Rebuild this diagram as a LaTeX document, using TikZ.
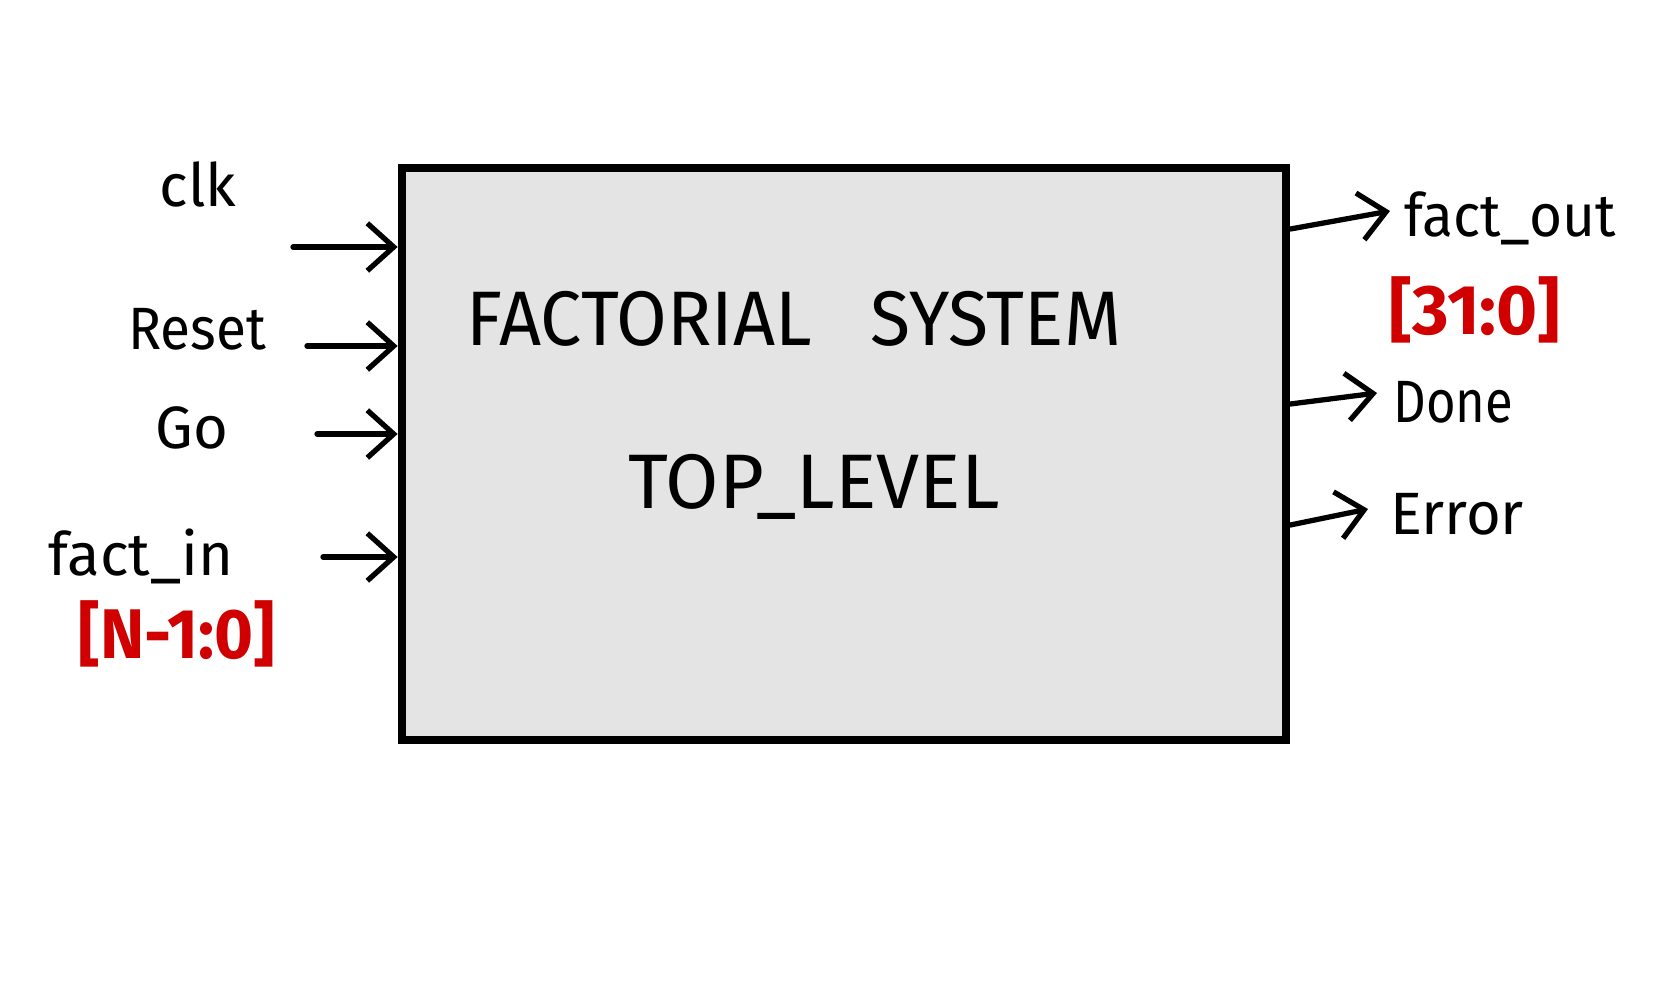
\documentclass[tikz,border=0pt]{standalone}
\usepackage{fontspec}
\setmainfont{Fira Sans}
\usetikzlibrary{arrows.meta}
\definecolor{boxgray}{HTML}{E4E4E4}
\definecolor{penred}{HTML}{D00000}
\begin{document}
\begin{tikzpicture}[x=0.02cm,y=-0.02cm,
  sig/.style={line width=3pt,line cap=round,line join=round,
    -{Straight Barb[length=15pt,width=27pt,line width=3pt]}},
  lbl/.style={inner sep=0pt,font=\fontsize{34}{40}\selectfont},
  bus/.style={inner sep=0pt,text=penred,font=\fontsize{40}{48}\selectfont\bfseries},
  ttl/.style={inner sep=0pt,font=\fontsize{44}{52}\selectfont}]
\useasboundingbox (0,0) rectangle (1657,1000);
\fill[white] (0,0) rectangle (1657,1000);
\node[draw,line width=4.5pt,fill=boxgray,minimum width=17.7cm,minimum height=11.44cm,inner sep=0pt] (box) at (844,454) {};
% title
\node[ttl] (t1) at (794,319) {\scalebox{0.95}[1]{FACTORIAL\hspace{0.8em}SYSTEM}};
\node[ttl] (t2) at (814,487) {TOP\_LEVEL};
% inputs
\node[lbl] (clk) at (198,184) {clk};
\node[lbl] (rst) at (197,329) {\scalebox{0.92}[1]{Reset}};
\node[lbl] (go) at (192,428) {Go};
\node[lbl] (fin) at (141,556) {fact\_in};
\node[bus] (finw) at (177,634) {\scalebox{0.95}[1]{[N-1:0]}};
\coordinate (clkS) at (293,247);
\coordinate (rstS) at (307,346);
\coordinate (goS) at (317,434);
\coordinate (finS) at (323,557);
\draw[sig] (clkS) -- (clkS -| box.west);
\draw[sig] (rstS) -- (rstS -| box.west);
\draw[sig] (goS) -- (goS -| box.west);
\draw[sig] (finS) -- (finS -| box.west);
% outputs
\node[lbl,anchor=west] (fout) at (1404,218) {\scalebox{0.95}[1]{fact\_out}};
\node[bus] (foutw) at (1475,310) {[31:0]};
\node[lbl,anchor=west] (done) at (1393,402) {\scalebox{0.85}[1]{Done}};
\node[lbl,anchor=west] (err) at (1390,514) {Error};
\coordinate (foS) at (0,229);
\coordinate (foE) at (1390,211);
\coordinate (dnS) at (0,404);
\coordinate (dnE) at (1377,393);
\coordinate (erS) at (0,525);
\coordinate (erE) at (1368,509);
\draw[sig] (box.east |- foS) -- (foE);
\draw[sig] (box.east |- dnS) -- (dnE);
\draw[sig] (box.east |- erS) -- (erE);
\end{tikzpicture}
\end{document}
